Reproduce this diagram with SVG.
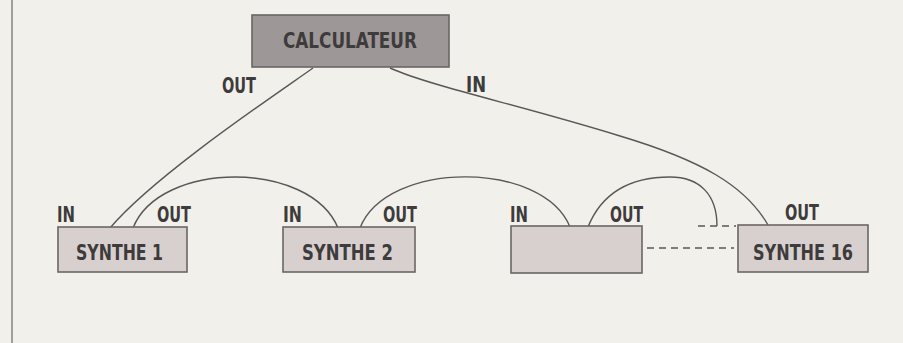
<svg xmlns="http://www.w3.org/2000/svg" width="903" height="343" viewBox="0 0 903 343">
<style>
.bg{fill:#f2f0eb}
.box{stroke:#6b6666;stroke-width:1.6}
.calc{fill:#9d9897}
.syn{fill:#d8d0cf}
.t{font-family:"Liberation Sans Narrow","DejaVu Sans Condensed","Liberation Sans",Arial,sans-serif;font-weight:bold;fill:#3d3b3b}
.big{font-size:21px}
.lbl{font-size:21px}
.c{fill:none;stroke:#5a5656;stroke-width:1.4}
.d{fill:none;stroke:#5a5656;stroke-width:1.3;stroke-dasharray:7,5}
</style>
<rect class="bg" x="0" y="0" width="903" height="343"/>
<line x1="12" y1="0" x2="12" y2="343" stroke="#8d8a86" stroke-width="1.6"/>
<g id="connectors">
<path class="c" d="M313,68 C275,95 155,175 110,228"/>
<path class="c" d="M390,68 C430,86 520,105 620,136 C700,160 745,185 768,225"/>
<path class="c" d="M133,228 C160,160 310,160 338,228"/>
<path class="c" d="M360,228 C387,160 543,160 570,227"/>
<path class="c" d="M588,227 C605,185 640,177 670,177 C700,177 717,195 717,226"/>
<line class="d" x1="698" y1="226" x2="736" y2="226"/>
<line class="d" x1="647" y1="248" x2="734" y2="248"/>
<text class="t lbl" x="222" y="93" textLength="34" lengthAdjust="spacingAndGlyphs">OUT</text>
<text class="t lbl" x="466" y="92" textLength="20" lengthAdjust="spacingAndGlyphs">IN</text>
</g>
<g id="calculateur">
<rect class="box calc" x="252" y="15" width="197" height="52"/>
<text class="t big" x="283" y="48" textLength="134" lengthAdjust="spacingAndGlyphs">CALCULATEUR</text>
</g>
<g id="synthe1">
<rect class="box syn" x="58" y="227" width="129" height="45"/>
<text class="t big" x="76" y="260" textLength="87" lengthAdjust="spacingAndGlyphs">SYNTHE 1</text>
<text class="t lbl" x="57" y="222" textLength="18" lengthAdjust="spacingAndGlyphs">IN</text>
<text class="t lbl" x="157" y="222" textLength="34" lengthAdjust="spacingAndGlyphs">OUT</text>
</g>
<g id="synthe2">
<rect class="box syn" x="283" y="227" width="132" height="45"/>
<text class="t big" x="302" y="260" textLength="91" lengthAdjust="spacingAndGlyphs">SYNTHE 2</text>
<text class="t lbl" x="283" y="222" textLength="19" lengthAdjust="spacingAndGlyphs">IN</text>
<text class="t lbl" x="383" y="222" textLength="34" lengthAdjust="spacingAndGlyphs">OUT</text>
</g>
<g id="synthe-n">
<rect class="box syn" x="511" y="226" width="131" height="47"/>
<text class="t lbl" x="510" y="222" textLength="18" lengthAdjust="spacingAndGlyphs">IN</text>
<text class="t lbl" x="610" y="222" textLength="33" lengthAdjust="spacingAndGlyphs">OUT</text>
</g>
<g id="synthe16">
<rect class="box syn" x="738" y="225" width="130" height="47"/>
<text class="t big" x="753" y="260" textLength="100" lengthAdjust="spacingAndGlyphs">SYNTHE 16</text>
<text class="t lbl" x="785" y="220" textLength="34" lengthAdjust="spacingAndGlyphs">OUT</text>
</g>
</svg>
